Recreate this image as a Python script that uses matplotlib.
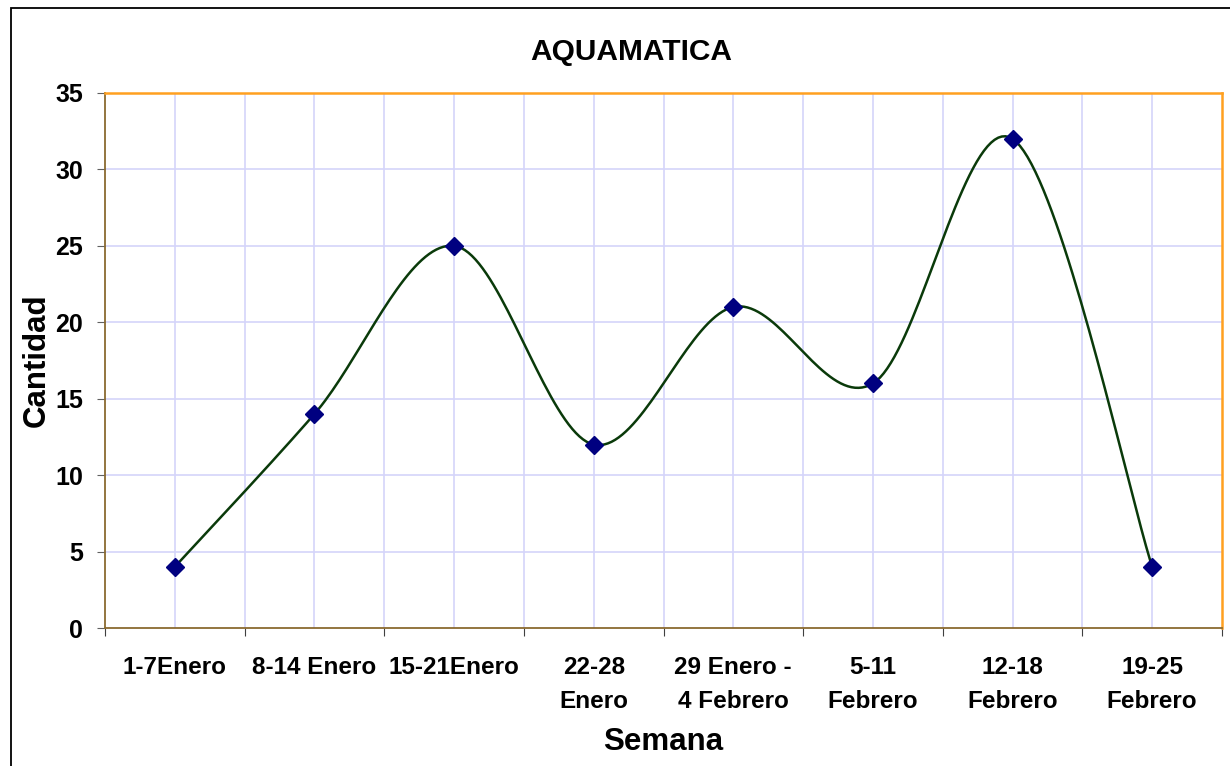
import numpy as np
import matplotlib
matplotlib.use('Agg')
from matplotlib import pyplot as plt
from matplotlib.patches import Rectangle

# data
weeks = ['1-7Enero', '8-14 Enero', '15-21Enero', '22-28\nEnero',
         '29 Enero -\n4 Febrero', '5-11\nFebrero', '12-18\nFebrero', '19-25\nFebrero']
cantidad = [4, 14, 25, 12, 21, 16, 32, 4]

plt.rcParams['font.family'] = ['Liberation Sans', 'DejaVu Sans']
plt.rcParams['font.weight'] = 'bold'

W, H = 1230, 766
fig = plt.figure(figsize=(W / 100, H / 100), dpi=100)
ax = fig.add_axes([105 / W, 1 - 628 / H, (1222 - 105) / W, (628 - 93) / H])

# outer chart border
fig.patches.append(Rectangle((11 / W, -0.01), 1.2, 1 - 8 / H + 0.01,
                             transform=fig.transFigure, fill=False,
                             edgecolor='black', linewidth=1.3))

x = np.arange(len(cantidad))
y = np.array(cantidad, dtype=float)

# smooth line like excel (catmull-rom as cubic bezier)
px = np.concatenate([[x[0]], x, [x[-1]]])
py = np.concatenate([[y[0]], y, [y[-1]]])
sx, sy = [], []
t = np.linspace(0, 1, 40)
for i in range(1, len(px) - 2):
    p0 = np.array([px[i], py[i]])
    p3 = np.array([px[i + 1], py[i + 1]])
    p1 = p0 + (np.array([px[i + 1], py[i + 1]]) - np.array([px[i - 1], py[i - 1]])) / 6
    p2 = p3 - (np.array([px[i + 2], py[i + 2]]) - np.array([px[i], py[i]])) / 6
    b = ((1 - t) ** 3)[:, None] * p0 + (3 * (1 - t) ** 2 * t)[:, None] * p1 \
        + (3 * (1 - t) * t ** 2)[:, None] * p2 + (t ** 3)[:, None] * p3
    sx.extend(b[:, 0])
    sy.extend(b[:, 1])

ax.plot(sx, sy, color='#0a3a0a', linewidth=1.8, zorder=3)
ax.plot(x, y, linestyle='none', marker='D', markersize=9,
        color='#000080', zorder=4)

ax.set_xlim(-0.5, len(cantidad) - 0.5)
ax.set_ylim(0, 35)

# gridlines at centres and boundaries
for xv in np.arange(-0.5, len(cantidad), 0.5)[1:-1]:
    ax.axvline(xv, color='#d4d4fa', linewidth=1.2, zorder=1)
for yv in range(5, 35, 5):
    ax.axhline(yv, color='#d4d4fa', linewidth=1.2, zorder=1)

ax.set_yticks(range(0, 36, 5))
ax.set_xticks(np.arange(-0.5, len(cantidad), 1.0))
ax.set_xticklabels([])
ax.set_xticks(x, minor=True)
ax.set_xticklabels(weeks, minor=True, fontsize=17.5, fontweight='bold', linespacing=1.65)
ax.tick_params(axis='x', which='minor', length=0, pad=20)
ax.tick_params(axis='x', which='major', length=6, color='#404040', direction='out')
ax.tick_params(axis='y', length=6, color='#606060', labelsize=18, pad=10)
for lab in ax.get_yticklabels():
    lab.set_fontweight('bold')

for s in ['top', 'right']:
    ax.spines[s].set_color('#ffa020')
    ax.spines[s].set_linewidth(1.8)
for s in ['left', 'bottom']:
    ax.spines[s].set_color('#8a6a30')
    ax.spines[s].set_linewidth(1.3)

fig.text(631 / W, 1 - 52 / H, 'AQUAMATICA', ha='center', va='center',
         fontsize=21.5, fontweight='bold')
fig.text(663 / W, 1 - 742 / H, 'Semana', ha='center', va='center',
         fontsize=22.5, fontweight='bold')
fig.text(37 / W, 1 - 360 / H, 'Cantidad', ha='center', va='center',
         rotation=90, fontsize=22.5, fontweight='bold')

fig.savefig('out.png', dpi=100)
